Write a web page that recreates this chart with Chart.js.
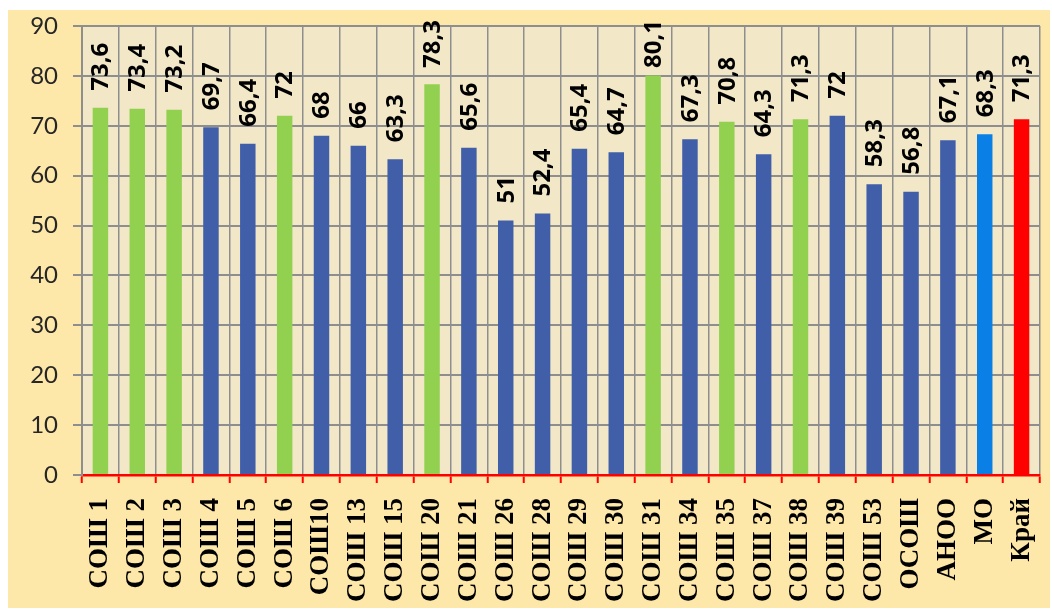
<!DOCTYPE html>
<html>
<head>
<meta charset="utf-8">
<script src="https://cdn.jsdelivr.net/npm/chart.js@4"></script>
<style>
  html, body { margin: 0; padding: 0; background: #fff; }
  #wrap { width: 1052px; height: 610px; }
</style>
</head>
<body>
<div id="wrap"><canvas id="chart" width="1052" height="610"></canvas></div>
<script>
const schools = ['СОШ 1', 'СОШ 2', 'СОШ 3', 'СОШ 4', 'СОШ 5', 'СОШ 6', 'СОШ10', 'СОШ 13', 'СОШ 15', 'СОШ 20',
  'СОШ 21', 'СОШ 26', 'СОШ 28', 'СОШ 29', 'СОШ 30', 'СОШ 31', 'СОШ 34', 'СОШ 35', 'СОШ 37', 'СОШ 38',
  'СОШ 39', 'СОШ 53', 'ОСОШ', 'АНОО', 'МО', 'Край'];
const scores = [73.6, 73.4, 73.2, 69.7, 66.4, 72, 68, 66, 63.3, 78.3,
  65.6, 51, 52.4, 65.4, 64.7, 80.1, 67.3, 70.8, 64.3, 71.3,
  72, 58.3, 56.8, 67.1, 68.3, 71.3];
// g = выше среднего, b = остальные, m = муниципалитет, k = край
const groups = ['g', 'g', 'g', 'b', 'b', 'g', 'b', 'b', 'b', 'g',
  'b', 'b', 'b', 'b', 'b', 'g', 'b', 'g', 'b', 'g',
  'b', 'b', 'b', 'b', 'm', 'k'];
const groupColors = { g: '#92d050', b: '#415fa8', m: '#0a80e6', k: '#ff0000' };

const backdrop = {
  id: 'backdrop',
  beforeDraw(chart) {
    const { ctx, chartArea: a } = chart;
    ctx.save();
    ctx.fillStyle = '#ffffff';
    ctx.fillRect(0, 0, chart.width, chart.height);
    ctx.fillStyle = '#fde8aa';
    ctx.fillRect(8, 10, 1042, 598);
    ctx.fillStyle = '#f2e8c8';
    ctx.fillRect(a.left, a.top, a.right - a.left, a.bottom - a.top);
    ctx.restore();
  }
};

// подписи значений, повёрнутые вертикально; сверху не выше y=20
const valueLabels = {
  id: 'valueLabels',
  afterDatasetsDraw(chart) {
    const { ctx } = chart;
    const meta = chart.getDatasetMeta(0);
    ctx.save();
    ctx.font = 'bold 24px "Open Sans"';
    ctx.fillStyle = '#000';
    ctx.textAlign = 'left';
    ctx.textBaseline = 'middle';
    meta.data.forEach((bar, i) => {
      const txt = String(scores[i]).replace('.', ',');
      const w = ctx.measureText(txt).width;
      const start = Math.max(bar.y - 17, 20 + w);
      ctx.save();
      ctx.translate(bar.x + 1, start);
      ctx.rotate(-Math.PI / 2);
      ctx.fillText(txt, 0, 0);
      ctx.restore();
    });
    ctx.restore();
  }
};

new Chart(document.getElementById('chart'), {
  type: 'bar',
  data: {
    labels: schools,
    datasets: [{
      data: scores,
      backgroundColor: groups.map(g => groupColors[g]),
      barPercentage: 0.42,
      categoryPercentage: 1
    }]
  },
  options: {
    responsive: false,
    animation: false,
    layout: { padding: { left: 8, right: 12, top: 26, bottom: 0 } },
    plugins: { legend: { display: false }, tooltip: { enabled: false } },
    scales: {
      x: {
        afterFit(scale) {
          scale.height = 135;
          scale.paddingLeft = 0;
          scale.paddingRight = 0;
        },
        grid: { color: '#8e8e8e', lineWidth: 1.5, tickLength: 8, tickColor: '#ff0000', tickWidth: 2 },
        border: { color: '#ff0000', width: 2.5 },
        ticks: {
          autoSkip: false, minRotation: 90, maxRotation: 90, padding: 15,
          color: '#000', font: { family: '"Liberation Serif"', weight: 'bold', size: 27 }
        }
      },
      y: {
        min: 0, max: 90,
        afterFit(scale) {
          scale.width = 74;
          scale.paddingTop = 0;
          scale.paddingBottom = 0;
        },
        grid: { color: '#8e8e8e', lineWidth: 2, tickLength: 9 },
        border: { color: '#8e8e8e', width: 2 },
        ticks: {
          stepSize: 10, padding: 15,
          color: '#262626', font: { family: 'Lato', size: 24 }
        }
      }
    }
  },
  plugins: [backdrop, valueLabels]
});
</script>
</body>
</html>
